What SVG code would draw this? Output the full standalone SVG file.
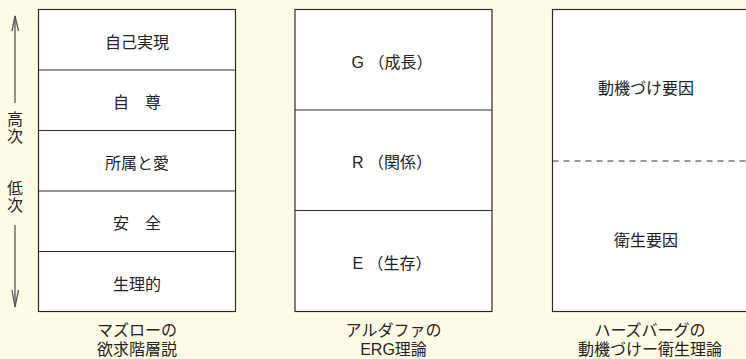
<svg xmlns="http://www.w3.org/2000/svg" width="746" height="359" viewBox="0 0 746 359">
<style>
.bg{fill:#FFFCE5}
.cell{fill:#FFFFFF;stroke:#2a2a2a;stroke-width:1.2}
.div{stroke:#2a2a2a;stroke-width:1.2;fill:none}
.dash{stroke:#333;stroke-width:1;stroke-dasharray:6,5;fill:none}
.t{font-family:"Liberation Sans","Noto Sans CJK JP",sans-serif;font-size:16px;fill:#222;text-anchor:middle}
.arr{stroke:#555;stroke-width:1.3;fill:none}
</style>
<rect class="bg" x="0" y="0" width="746" height="359"/>

<g id="maslow">
  <rect class="cell" x="38.5" y="9.5" width="197" height="302"/>
  <g id="m-self"><text class="t" x="137" y="47.5">自己実現</text></g>
  <line class="div" x1="38.5" y1="70" x2="235.5" y2="70"/>
  <g id="m-esteem"><text class="t" x="137" y="108">自　尊</text></g>
  <line class="div" x1="38.5" y1="130.5" x2="235.5" y2="130.5"/>
  <g id="m-love"><text class="t" x="137" y="168.5">所属と愛</text></g>
  <line class="div" x1="38.5" y1="191" x2="235.5" y2="191"/>
  <g id="m-safety"><text class="t" x="137" y="229">安　全</text></g>
  <line class="div" x1="38.5" y1="251.5" x2="235.5" y2="251.5"/>
  <g id="m-phys"><text class="t" x="137" y="289.5">生理的</text></g>
  <g id="m-label">
    <text class="t" x="137" y="336">マズローの</text>
    <text class="t" x="137" y="355">欲求階層説</text>
  </g>
</g>

<g id="erg">
  <rect class="cell" x="295" y="9.5" width="197" height="302"/>
  <g id="e-growth"><text class="t" x="392" y="68">G （成長）</text></g>
  <line class="div" x1="295" y1="110" x2="492" y2="110"/>
  <g id="e-related"><text class="t" x="392" y="168">R （関係）</text></g>
  <line class="div" x1="295" y1="210.5" x2="492" y2="210.5"/>
  <g id="e-exist"><text class="t" x="392" y="269">E （生存）</text></g>
  <g id="e-label">
    <text class="t" x="393.5" y="336">アルダファの</text>
    <text class="t" x="393.5" y="355">ERG理論</text>
  </g>
</g>

<g id="herzberg">
  <rect class="cell" x="552.5" y="9.5" width="197" height="302"/>
  <g id="h-motiv"><text class="t" x="646" y="94">動機づけ要因</text></g>
  <line class="dash" x1="552.5" y1="161" x2="749.5" y2="161"/>
  <g id="h-hygiene"><text class="t" x="646" y="246">衛生要因</text></g>
  <g id="h-label">
    <text class="t" x="650" y="336">ハーズバーグの</text>
    <text class="t" x="650" y="355">動機づけー衛生理論</text>
  </g>
</g>

<g id="axis-labels">
  <text class="t" x="15" y="125">高</text>
  <text class="t" x="15" y="142">次</text>
  <text class="t" x="15" y="194">低</text>
  <text class="t" x="15" y="211">次</text>
</g>

<g id="connectors">
  <line class="arr" x1="15" y1="16" x2="15" y2="103"/>
  <polyline class="arr" points="12,31 15,16 18.5,31"/>
  <line class="arr" x1="15" y1="225" x2="15" y2="307"/>
  <polyline class="arr" points="12,290 15,307 18.5,290"/>
</g>
</svg>
